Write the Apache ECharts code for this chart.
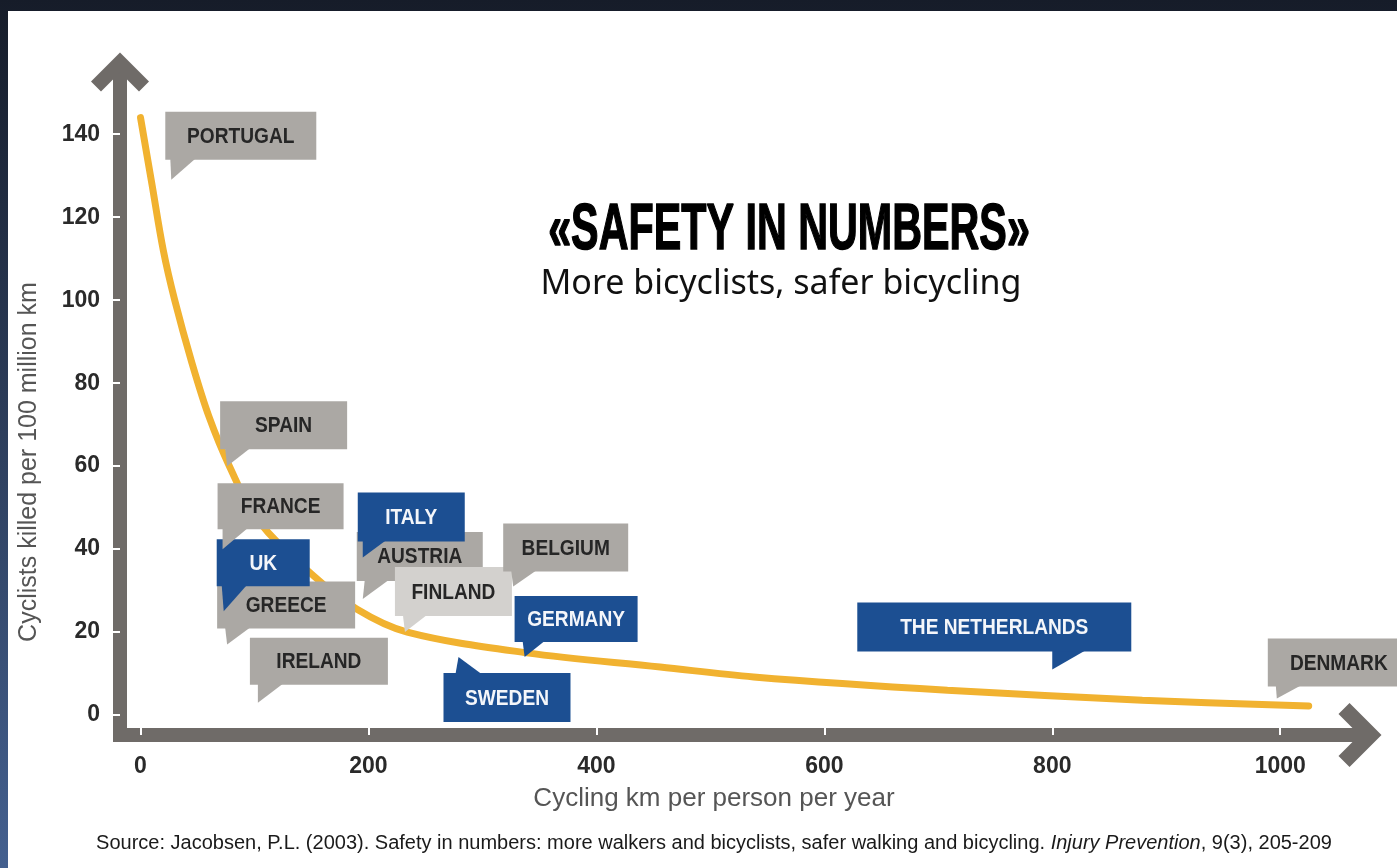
<!DOCTYPE html>
<html>
<head>
<meta charset="utf-8">
<title>Safety in numbers</title>
<script src="https://cdn.jsdelivr.net/npm/echarts@6/dist/echarts.min.js"></script>
<style>
html, body { margin: 0; padding: 0; background: #1a2030; }
#chart { width: 1397px; height: 868px; }
</style>
</head>
<body>
<div id="chart"></div>
<script>
// fitted curve
var curveKm   = [0, 10, 20, 30, 45, 60, 78, 103, 150, 190, 234, 339, 456, 538, 708, 879, 1025];
var curveRate = [144, 128, 112, 100, 85, 72, 60, 47, 34, 25.5, 20, 15, 11.6, 9.2, 6.0, 3.6, 2.2];

// countries, in drawing order (later ones sit on top)
var countries   = ["IRELAND", "GREECE", "UK", "FRANCE", "SPAIN", "PORTUGAL", "AUSTRIA", "FINLAND", "ITALY", "BELGIUM", "GERMANY", "SWEDEN", "THE NETHERLANDS", "DENMARK"];
var countryKm   = [103, 76, 73, 72, 76, 27, 195, 232, 195, 327, 337, 279, 800, 997];
var countryRate = [3, 17, 25, 40, 60, 129, 28, 20, 38, 31, 14, 14, 11, 4];
var highlighted = ["UK", "ITALY", "GERMANY", "SWEDEN", "THE NETHERLANDS"];

var xTicks = [0, 200, 400, 600, 800, 1000];
var yTicks = [0, 20, 40, 60, 80, 100, 120, 140];

// where each speech bubble sits relative to the point it points at (px)
var callout = {
  "PORTUGAL":        { dx: -6,   dy: -68, w: 151, h: 48, tail: "bottom", a: 5,   b: 30 },
  "SPAIN":           { dx: -7,   dy: -65, w: 127, h: 48, tail: "bottom", a: 5,   b: 30 },
  "FRANCE":          { dx: -5,   dy: -66, w: 126, h: 46, tail: "bottom", a: 5,   b: 30 },
  "UK":              { dx: -7,   dy: -72, w: 93,  h: 47, tail: "bottom", a: 5,   b: 30 },
  "GREECE":          { dx: -10,  dy: -63, w: 138, h: 47, tail: "bottom", a: 8,   b: 33 },
  "IRELAND":         { dx: -8,   dy: -65, w: 138, h: 47, tail: "bottom", a: 8,   b: 33 },
  "ITALY":           { dx: -5,   dy: -65, w: 107, h: 49, tail: "bottom", a: 5,   b: 28 },
  "AUSTRIA":         { dx: -6,   dy: -67, w: 126, h: 49, tail: "bottom", a: 8,   b: 32 },
  "FINLAND":         { dx: -10,  dy: -65, w: 117, h: 49, tail: "bottom", a: 8,   b: 32 },
  "BELGIUM":         { dx: -10,  dy: -63, w: 125, h: 48, tail: "bottom", a: 8,   b: 33 },
  "GERMANY":         { dx: -10,  dy: -61, w: 123, h: 46, tail: "bottom", a: 8,   b: 30 },
  "SWEDEN":          { dx: -15,  dy: 16,  w: 127, h: 49, tail: "top",    a: 12,  b: 38 },
  "THE NETHERLANDS": { dx: -195, dy: -67, w: 274, h: 49, tail: "bottom", a: 195, b: 228 },
  "DENMARK":         { dx: -9,   dy: -60, w: 142, h: 48, tail: "bottom", a: 8,   b: 33 }
};

var axisGray = "#6f6b68";
var chevron = "path://M29,0 L58,29 L48,39 L29,20 L10,39 L0,29 Z";
var labelFont = '"Liberation Sans", Arial, sans-serif';

function renderCallout(params, api) {
  var name = countries[params.dataIndex];
  var c = callout[name];
  var tip = api.coord([api.value(0), api.value(1)]);
  var left = tip[0] + c.dx, top = tip[1] + c.dy;
  var edge = c.tail === "top" ? top + 1 : top + c.h - 1;
  var blue = highlighted.indexOf(name) >= 0;
  var fill = blue ? "#1c4f92" : (name === "FINLAND" ? "#d3d1ce" : "#aba8a4");
  return {
    type: "group",
    children: [
      { type: "polygon", shape: { points: [[left + c.a, edge], [left + c.b, edge], tip] }, style: { fill: fill } },
      { type: "rect", shape: { x: left, y: top, width: c.w, height: c.h }, style: { fill: fill } },
      {
        type: "text", x: left + c.w / 2, y: top + c.h / 2 + 1, scaleX: 0.87,
        style: {
          text: name, fill: blue ? "#f4f6fa" : "#262626",
          font: "bold 22px " + labelFont,
          align: "center", verticalAlign: "middle", textAlign: "center", textVerticalAlign: "middle"
        }
      }
    ]
  };
}

var chart = echarts.init(document.getElementById("chart"));
chart.setOption({
  backgroundColor: {
    type: "linear", x: 0, y: 0, x2: 0, y2: 1,
    colorStops: [{ offset: 0, color: "#161c29" }, { offset: 1, color: "#44608f" }]
  },
  animation: false,
  grid: { left: 120, right: 37, top: 72, bottom: 133, outerBoundsMode: "none" },
  xAxis: {
    type: "value", min: -18, max: 1070,
    axisLine: {
      onZero: false, symbol: ["none", chevron], symbolSize: [64, 43],
      lineStyle: { color: axisGray, width: 14, cap: "square" }
    },
    axisTick: { show: true, customValues: xTicks, inside: true, length: 10, lineStyle: { color: "#fff", width: 2 } },
    axisLabel: {
      customValues: xTicks, margin: 20, color: "#2a2a2a", fontWeight: "bold", fontSize: 23, fontFamily: labelFont,
      formatter: function (v) { return String(v); }
    },
    splitLine: { show: false },
    name: "Cycling km per person per year",
    nameLocation: "middle", nameGap: 51,
    nameTextStyle: { color: "#555", fontSize: 26, fontFamily: labelFont, padding: [0, 52, 0, 0] }
  },
  yAxis: {
    type: "value", min: -4.8, max: 155,
    axisLine: {
      show: true, onZero: false, symbol: ["none", chevron], symbolSize: [58, 39],
      lineStyle: { color: axisGray, width: 14, cap: "square" }
    },
    axisTick: { show: true, customValues: yTicks, length: 11, lineStyle: { color: "#fff", width: 2 } },
    axisLabel: {
      customValues: yTicks, margin: 20, color: "#2a2a2a", fontWeight: "bold", fontSize: 23, fontFamily: labelFont,
      formatter: function (v) { return String(v); }
    },
    splitLine: { show: false },
    name: "Cyclists killed per 100 million km",
    nameLocation: "middle", nameGap: 78,
    nameTextStyle: { color: "#555", fontSize: 25, fontFamily: labelFont, padding: [0, 117, 0, 0] }
  },
  graphic: [
    { type: "rect", z: -10, shape: { x: 8, y: 11, width: 1389, height: 857 }, style: { fill: "#fff" } },
    {
      type: "text", x: 789, y: 231, scaleX: 0.645,
      style: {
        text: "«SAFETY IN NUMBERS»", font: 'bold 64px "Liberation Sans", Arial, sans-serif',
        fill: "#000", stroke: "#000", lineWidth: 1.5,
        align: "center", verticalAlign: "middle", textAlign: "center", textVerticalAlign: "middle"
      }
    },
    {
      type: "text", x: 781, y: 284,
      style: {
        text: "More bicyclists, safer bicycling", font: '34px "Noto Sans", sans-serif', fill: "#111",
        align: "center", verticalAlign: "middle", textAlign: "center", textVerticalAlign: "middle"
      }
    },
    {
      type: "text", x: 714, y: 843,
      style: {
        text: "{n|Source: Jacobsen, P.L. (2003). Safety in numbers: more walkers and bicyclists, safer walking and bicycling. }{i|Injury Prevention}{n|, 9(3), 205-209}",
        rich: {
          n: { fontSize: 20, fontFamily: labelFont, fill: "#1a1a1a", color: "#1a1a1a" },
          i: { fontSize: 20, fontFamily: labelFont, fontStyle: "italic", fill: "#1a1a1a", color: "#1a1a1a" }
        },
        align: "center", verticalAlign: "middle", textAlign: "center", textVerticalAlign: "middle"
      }
    }
  ],
  series: [
    {
      type: "line",
      data: curveKm.map(function (k, i) { return [k, curveRate[i]]; }),
      smooth: 0.35, showSymbol: false, z: 2,
      lineStyle: { color: "#f1b230", width: 7, cap: "round" }
    },
    {
      type: "custom",
      data: countryKm.map(function (k, i) { return [k, countryRate[i]]; }),
      encode: { x: 0, y: 1 },
      renderItem: renderCallout, z: 5
    }
  ]
});
</script>
</body>
</html>
